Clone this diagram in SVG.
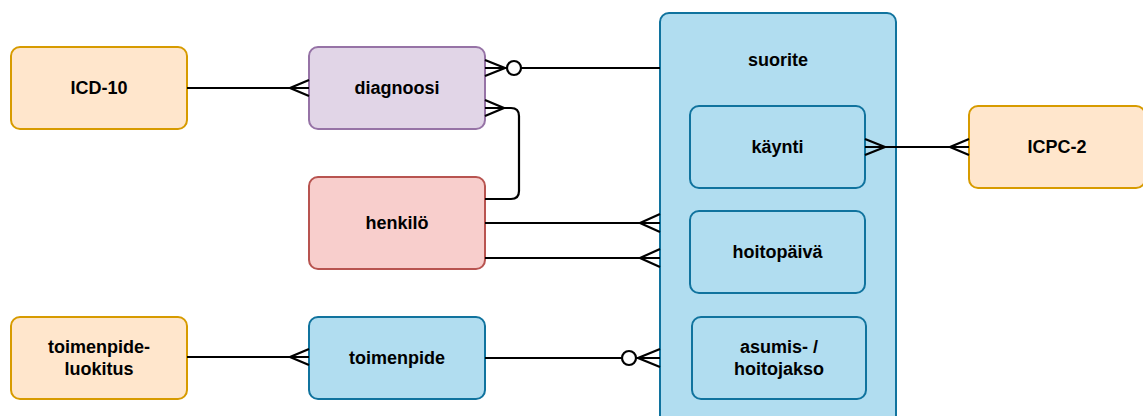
<svg xmlns="http://www.w3.org/2000/svg" width="1143" height="416" viewBox="0 0 1143 416">
  <style>
    .box { stroke-width: 2; }
    .orange { fill: #ffe6cc; stroke: #d79b00; }
    .purple { fill: #e1d5e7; stroke: #9673a6; }
    .red { fill: #f8cecc; stroke: #b85450; }
    .blue { fill: #b1ddf0; stroke: #10739e; }
    .lbl { font-family: "Liberation Sans", Arial, sans-serif; font-weight: bold; font-size: 18px; fill: #000; text-anchor: middle; dominant-baseline: central; }
    .edge { fill: none; stroke: #000; stroke-width: 2.2; }
    .ring { fill: #fff; stroke: #000; stroke-width: 2.2; }
  </style>
  <rect width="1143" height="416" fill="#fff"/>

  <!-- container entity with its sub-entities -->
  <g id="suorite">
    <rect class="box blue" x="660" y="13" width="236" height="420" rx="9"/>
    <text class="lbl" x="778" y="60">suorite</text>
  </g>
  <g id="kaynti">
    <rect class="box blue" x="690" y="106" width="175" height="82" rx="9"/>
    <text class="lbl" x="777.5" y="147">käynti</text>
  </g>
  <g id="hoitopaiva">
    <rect class="box blue" x="690" y="211" width="175" height="82" rx="9"/>
    <text class="lbl" x="777.5" y="252">hoitopäivä</text>
  </g>
  <g id="asumisjakso">
    <rect class="box blue" x="692" y="317" width="174" height="82" rx="9"/>
    <text class="lbl" x="779" y="347">asumis- /</text>
    <text class="lbl" x="779" y="369">hoitojakso</text>
  </g>

  <g id="icd10">
    <rect class="box orange" x="11" y="47" width="176" height="82" rx="9"/>
    <text class="lbl" x="99" y="88">ICD-10</text>
  </g>
  <g id="diagnoosi">
    <rect class="box purple" x="309" y="47" width="176" height="82" rx="9"/>
    <text class="lbl" x="397" y="88">diagnoosi</text>
  </g>
  <g id="henkilo">
    <rect class="box red" x="309" y="177" width="176" height="92" rx="9"/>
    <text class="lbl" x="397" y="223">henkilö</text>
  </g>
  <g id="toimenpide">
    <rect class="box blue" x="309" y="317" width="176" height="82" rx="9"/>
    <text class="lbl" x="397" y="358">toimenpide</text>
  </g>
  <g id="toimenpideluokitus">
    <rect class="box orange" x="11" y="317" width="176" height="82" rx="9"/>
    <text class="lbl" x="99" y="347">toimenpide-</text>
    <text class="lbl" x="99" y="369">luokitus</text>
  </g>
  <g id="icpc2">
    <rect class="box orange" x="969" y="106" width="176" height="82" rx="9"/>
    <text class="lbl" x="1057" y="147">ICPC-2</text>
  </g>

  <g id="connectors">
    <!-- ICD-10 to diagnoosi -->
    <path class="edge" d="M187 88 H309 M309 80 L290 88 L309 96"/>
    <!-- diagnoosi to suorite (zero or many) -->
    <path class="edge" d="M521 68 H660 M485 68 H507 M485 60 L505 68 L485 76"/>
    <circle class="ring" cx="514" cy="68" r="7"/>
    <!-- diagnoosi to henkilö -->
    <path class="edge" d="M485 108 H511 Q519 108 519 116 V191 Q519 199 511 199 H485 M485 100 L504 108 L485 116"/>
    <!-- henkilö to suorite, two relations -->
    <path class="edge" d="M485 223 H660 M660 214 L640 223 L660 232"/>
    <path class="edge" d="M485 258 H660 M660 249 L640 258 L660 267"/>
    <!-- toimenpide to suorite (zero or many) -->
    <path class="edge" d="M485 358 H622 M636 358 H660 M660 349 L638 358 L660 367"/>
    <circle class="ring" cx="629" cy="358" r="7"/>
    <!-- toimenpideluokitus to toimenpide -->
    <path class="edge" d="M187 357 H309 M309 349 L290 357 L309 365"/>
    <!-- käynti to ICPC-2 -->
    <path class="edge" d="M865 147 H969 M865 139 L885 147 L865 155 M969 139 L950 147 L969 155"/>
  </g>
</svg>
